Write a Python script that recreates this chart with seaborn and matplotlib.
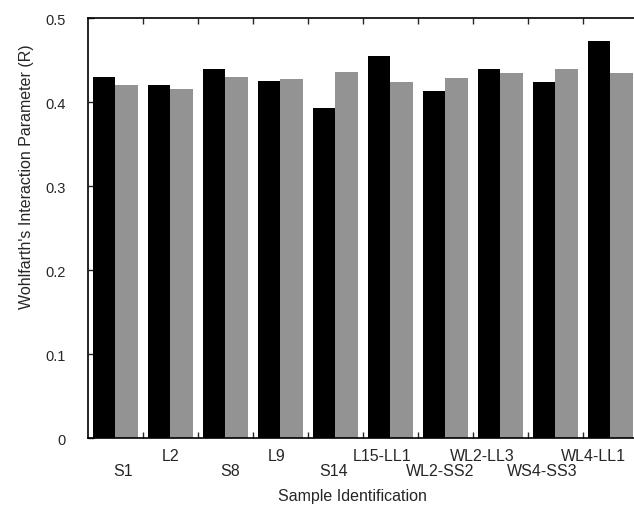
import numpy as np
import pandas as pd
import matplotlib
matplotlib.use("Agg")
import matplotlib.pyplot as plt
import matplotlib.transforms as mtransforms
import seaborn as sns

samples = ["S1", "L2", "S8", "L9", "S14", "L15-LL1", "WL2-SS2", "WL2-LL3", "WS4-SS3", "WL4-LL1"]
black_values = [0.430, 0.420, 0.439, 0.425, 0.393, 0.455, 0.413, 0.439, 0.424, 0.473]
gray_values = [0.420, 0.416, 0.430, 0.428, 0.436, 0.424, 0.429, 0.434, 0.439, 0.435]
series_names = ["Series 1", "Series 2"]
y_ticks = [0, 0.1, 0.2, 0.3, 0.4, 0.5]
y_tick_labels = ["0", "0.1", "0.2", "0.3", "0.4", "0.5"]

df = pd.DataFrame({
    "Sample": samples * 2,
    "R": black_values + gray_values,
    "Series": [series_names[0]] * len(samples) + [series_names[1]] * len(samples),
})

sns.set_style("ticks")
plt.rcParams["font.family"] = ["Liberation Sans", "DejaVu Sans"]

fig = plt.figure(figsize=(6.34, 5.06), dpi=100)
ax = fig.add_axes([0.1388, 0.1324, 0.8612, 0.830])
sns.barplot(data=df, x="Sample", y="R", hue="Series", order=samples,
            hue_order=series_names, palette=["#000000", "#939393"],
            width=0.81, gap=0, saturation=1, legend=False, errorbar=None,
            linewidth=0, ax=ax)

n = len(samples)
ax.set_ylim(0, 0.5)
ax.set_xlim(-0.5, n - 1 + 0.43)
ax.set_yticks(y_ticks)
ax.set_yticklabels(y_tick_labels, fontsize=10.5)
ax.tick_params(axis="y", direction="in", length=4, width=1, pad=16)

# ticks at group boundaries (no labels)
ax.set_xticks([i + 0.5 for i in range(n - 1)])
ax.set_xticklabels([])
ax.tick_params(axis="x", which="major", direction="in", length=4, width=1,
               top=True, bottom=True)

# staggered, hand-placed sample labels (as in the original figure)
dx_px = [7.5, 0, 4.5, -3.5, -1.5, -8.5, -5, -18, -13.5, -16.5]
trans = mtransforms.blended_transform_factory(ax.transData, ax.transAxes)
for i, s in enumerate(samples):
    dy_px = -32.5 if i % 2 == 0 else -17.7
    ax.annotate(s, xy=(i, 0), xycoords=trans,
                xytext=(dx_px[i] * 0.72, dy_px * 0.72), textcoords="offset points",
                ha="center", va="center", fontsize=11.5)

for side in ["top", "left", "bottom"]:
    ax.spines[side].set_visible(True)
    ax.spines[side].set_linewidth(1.2)
    ax.spines[side].set_color("black")
ax.spines["right"].set_visible(False)

ax.set_ylabel("Wohlfarth's Interaction Parameter (R)", fontsize=11.5)
ax.yaxis.set_label_coords(-0.112, 0.625)
ax.yaxis.label.set_va("center")
ax.set_xlabel("Sample Identification", fontsize=11.5)
ax.xaxis.set_label_coords(0.484, -0.138)
ax.xaxis.label.set_va("center")

fig.savefig("out.png", dpi=100)
